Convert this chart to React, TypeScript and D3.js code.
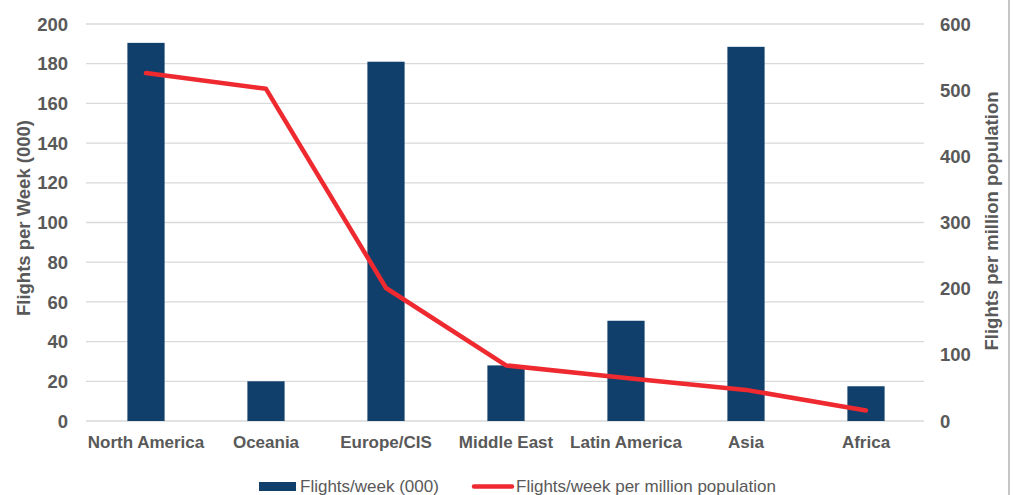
import React from "react";
import * as d3 from "d3";

const categories = ["North America", "Oceania", "Europe/CIS", "Middle East", "Latin America", "Asia", "Africa"];
const flightsPerWeek = [190.5, 20, 181, 28, 50.5, 188.5, 17.5];
const flightsPerMillion = [526, 502, 201, 84, 65, 47, 16];
const leftTicks = [0, 20, 40, 60, 80, 100, 120, 140, 160, 180, 200];
const rightTicks = [0, 100, 200, 300, 400, 500, 600];

const W = 1015;
const H = 495;
const M = { left: 86, right: 926, top: 24, bottom: 421 };
const TEXT = "#595959";
const BAR = "#0F3F6A";
const RED = "#EE2A30";
const FONT = "Arial, 'Liberation Sans', sans-serif";

export default function App() {
  const x = d3.scaleBand<string>().domain(categories).range([M.left, M.right]).paddingInner(0).paddingOuter(0);
  const yL = d3.scaleLinear().domain([0, 200]).range([M.bottom, M.top]);
  const yR = d3.scaleLinear().domain([0, 600]).range([M.bottom, M.top]);
  const barW = x.bandwidth() * 0.31;
  const line = d3
    .line<number>()
    .x((_, i) => (x(categories[i]) as number) + x.bandwidth() / 2)
    .y((d) => yR(d));

  return (
    <svg
      width={W}
      height={H}
      style={{ position: "absolute", left: 0, top: 0, background: "#fff" }}
      fontFamily={FONT}
    >
      <rect x={0} y={0} width={W} height={H} fill="#fff" />
      {leftTicks.map((t) => (
        <line key={"g" + t} x1={M.left} x2={M.right - 2} y1={yL(t)} y2={yL(t)} stroke="#D9D9D9" strokeWidth={1.3} />
      ))}
      {leftTicks.map((t) => (
        <text key={"l" + t} x={68} y={yL(t)} dy="0.36em" textAnchor="end" fontSize={18.5} fontWeight="bold" fill={TEXT}>
          {t}
        </text>
      ))}
      {rightTicks.map((t) => (
        <text key={"r" + t} x={940} y={yR(t)} dy="0.36em" textAnchor="start" fontSize={18.5} fontWeight="bold" fill={TEXT}>
          {t}
        </text>
      ))}
      {categories.map((c, i) => (
        <rect
          key={c}
          x={(x(c) as number) + x.bandwidth() / 2 - barW / 2}
          y={yL(flightsPerWeek[i])}
          width={barW}
          height={yL(0) - yL(flightsPerWeek[i])}
          fill={BAR}
        />
      ))}
      <path d={line(flightsPerMillion) as string} fill="none" stroke={RED} strokeWidth={4.5} strokeLinejoin="round" strokeLinecap="round" />
      {categories.map((c) => (
        <text key={"c" + c} x={(x(c) as number) + x.bandwidth() / 2} y={448} textAnchor="middle" fontSize={17} fontWeight="bold" fill={TEXT}>
          {c}
        </text>
      ))}
      <text transform={`translate(30,218) rotate(-90)`} textAnchor="middle" fontSize={18.5} fontWeight="bold" fill={TEXT}>
        Flights per Week (000)
      </text>
      <text transform={`translate(998,221) rotate(-90)`} textAnchor="middle" fontSize={18.5} fontWeight="bold" fill={TEXT}>
        Flights per million population
      </text>
      <rect x={259} y={482} width={37} height={9} fill={BAR} />
      <text x={300} y={492} fontSize={17} fill={TEXT}>Flights/week (000)</text>
      <line x1={474} x2={512} y1={486.5} y2={486.5} stroke={RED} strokeWidth={4.5} strokeLinecap="round" />
      <text x={516} y={492} fontSize={17} fill={TEXT}>Flights/week per million population</text>
      <line x1={1009} x2={1009} y1={0} y2={H} stroke="#8C8C8C" strokeWidth={1} />
    </svg>
  );
}
